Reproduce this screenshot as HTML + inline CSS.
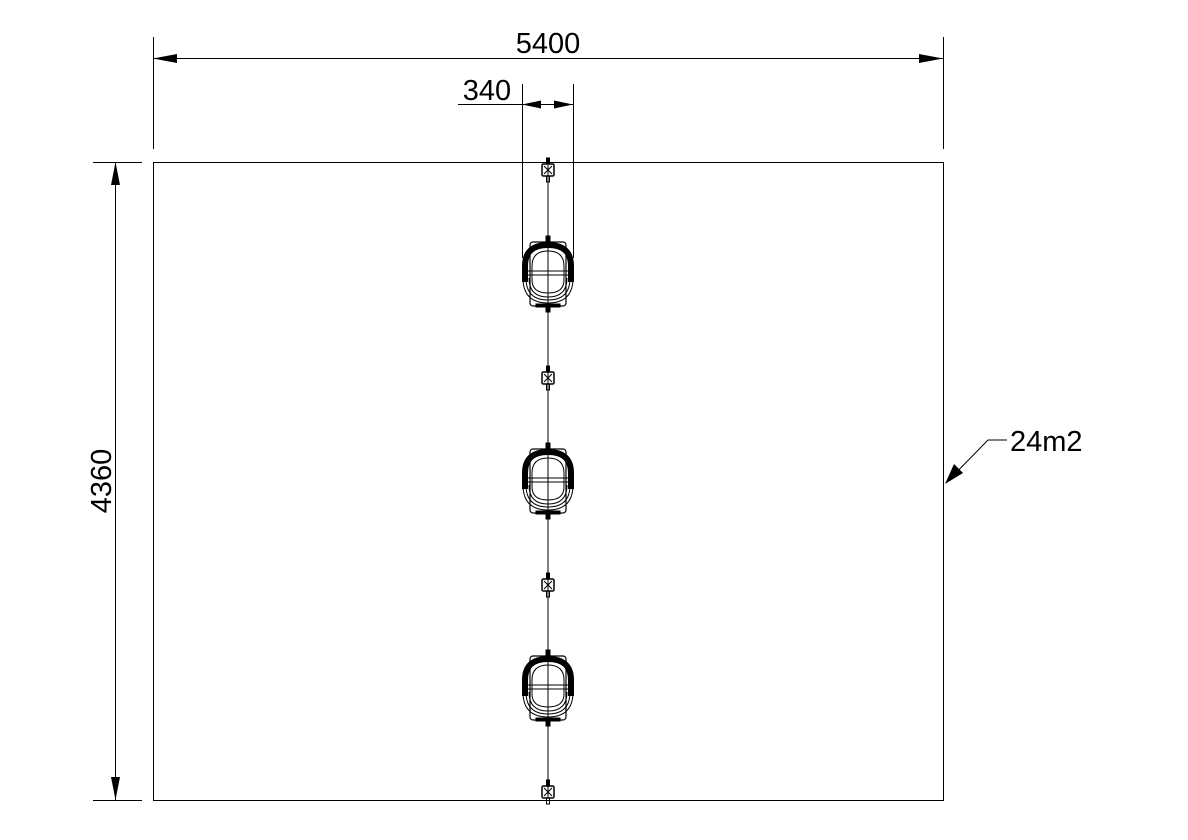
<!DOCTYPE html>
<html><head><style>body{margin:0;background:#fff}svg{display:block}</style></head>
<body>
<svg width="1188" height="840" viewBox="0 0 1188 840" xmlns="http://www.w3.org/2000/svg" font-family="Liberation Sans, sans-serif">
<defs>
<g id="seat" fill="none" stroke="#000">
  <rect x="-18" y="2" width="36" height="64" rx="3" stroke-width="1.2"/>
  <path d="M-23,42 L-23,26 Q-23,5 0,5 Q23,5 23,26 L23,42" stroke-width="6"/>
  <path d="M-25,38 Q-25,63 0,63 Q25,63 25,38" stroke-width="1"/>
  <path d="M-22,38 Q-22,60 0,60 Q22,60 22,38" stroke-width="1"/>
  <path d="M-19,38 Q-19,57 0,57 Q19,57 19,38" stroke-width="1"/>
  <path d="M-16,26 Q-16,11 0,11 Q16,11 16,26 L16,40 Q16,53 0,53 Q-16,53 -16,40 Z" stroke-width="1"/>
  <line x1="-22" y1="31" x2="22" y2="31" stroke-width="1"/>
  <line x1="-22" y1="35" x2="22" y2="35" stroke-width="1"/>
  <rect x="-12" y="64" width="24" height="3" fill="#000"/>
  <rect x="-2" y="-4" width="4" height="6" fill="#000"/>
  <rect x="-2" y="66" width="4" height="6" fill="#000"/>
</g>
<g id="conn" fill="none" stroke="#000" stroke-width="1">
  <rect x="-6" y="-6" width="12" height="12" rx="1.5" stroke-width="1.5"/>
  <path d="M-4,-4 L0,0 L4,-4 M-4,4 L0,0 L4,4"/>
  <rect x="-1.5" y="-12" width="3" height="6" fill="#000"/>
  <rect x="-1.5" y="6" width="3" height="6"/>
</g>
</defs>
<rect x="153.5" y="162.5" width="790" height="638" fill="none" stroke="#000" stroke-width="1"/>
<line x1="548" y1="165" x2="548" y2="798" stroke="#000" stroke-width="1"/>
<use href="#conn" x="548" y="170"/>
<use href="#conn" x="548" y="378"/>
<use href="#conn" x="548" y="585"/>
<use href="#conn" x="548" y="792"/>
<use href="#seat" x="548" y="240"/>
<use href="#seat" x="548" y="447"/>
<use href="#seat" x="548" y="654"/>
<g stroke="#000" stroke-width="1" fill="none">
  <line x1="153.5" y1="37" x2="153.5" y2="149"/>
  <line x1="943.5" y1="37" x2="943.5" y2="149"/>
  <line x1="153" y1="58.5" x2="943" y2="58.5"/>
  <line x1="522.5" y1="84" x2="522.5" y2="258"/>
  <line x1="573.5" y1="84" x2="573.5" y2="258"/>
  <line x1="458" y1="104.5" x2="573" y2="104.5"/>
  <line x1="93" y1="162.5" x2="142" y2="162.5"/>
  <line x1="93" y1="800.5" x2="142" y2="800.5"/>
  <line x1="115.5" y1="162" x2="115.5" y2="800"/>
  <polyline points="947,482 988,440 1007,440"/>
</g>
<g fill="#000">
  <polygon points="153,58.5 177,54 177,63"/>
  <polygon points="943,58.5 919,54 919,63"/>
  <polygon points="522,104.5 541,100.5 541,108.5"/>
  <polygon points="573,104.5 554,100.5 554,108.5"/>
  <polygon points="115.5,162 111,185 120,185"/>
  <polygon points="115.5,800 111,777 120,777"/>
  <polygon points="945,484 954,464 963,473"/>
</g>
<g font-size="29" fill="#000">
  <text x="548" y="53" text-anchor="middle">5400</text>
  <text x="487" y="100" text-anchor="middle">340</text>
  <text x="1010" y="451">24m2</text>
  <text transform="translate(111,481) rotate(-90)" text-anchor="middle">4360</text>
</g>
</svg>
</body></html>
